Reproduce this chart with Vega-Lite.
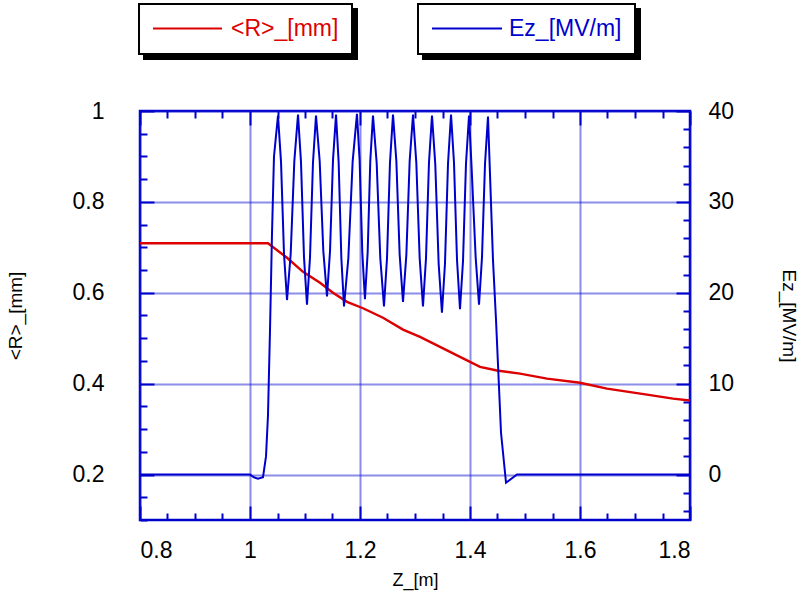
{
  "$schema": "https://vega.github.io/schema/vega-lite/v6.json",
  "width": 550,
  "height": 409,
  "autosize": {"type": "none"},
  "padding": {"left": 140, "top": 111, "right": 111, "bottom": 75},
  "background": "white",
  "config": {
    "view": {"stroke": "#0000CC", "strokeWidth": 2.5},
    "axis": {
      "domain": false,
      "labelFont": "Liberation Sans",
      "labelFontSize": 23,
      "labelColor": "black",
      "titleFont": "Liberation Sans",
      "titleFontWeight": "normal",
      "titleColor": "black",
      "titleFontSize": 19,
      "tickColor": "#0000CC",
      "tickWidth": 2,
      "gridColor": "#1a1ad4",
      "gridDash": [1, 1],
      "gridWidth": 2
    },
    "legend": {"strokeWidth": 2}
  },
  "datasets": {
    "R": [
      {"z": 0.8, "v": 0.709},
      {"z": 1.0327, "v": 0.709},
      {"z": 1.0673, "v": 0.677},
      {"z": 1.0964, "v": 0.646},
      {"z": 1.1273, "v": 0.622},
      {"z": 1.1509, "v": 0.6},
      {"z": 1.1764, "v": 0.58},
      {"z": 1.2055, "v": 0.566},
      {"z": 1.2418, "v": 0.545},
      {"z": 1.2782, "v": 0.519},
      {"z": 1.3091, "v": 0.503},
      {"z": 1.3455, "v": 0.481},
      {"z": 1.3818, "v": 0.459},
      {"z": 1.4182, "v": 0.437},
      {"z": 1.4491, "v": 0.429},
      {"z": 1.4909, "v": 0.422},
      {"z": 1.54, "v": 0.411},
      {"z": 1.6, "v": 0.402},
      {"z": 1.6491, "v": 0.389},
      {"z": 1.7218, "v": 0.376},
      {"z": 1.7691, "v": 0.367},
      {"z": 1.8, "v": 0.363}
    ],
    "Ez": [
      {"z": 0.8, "v": 0},
      {"z": 1.0, "v": 0},
      {"z": 1.007, "v": -0.3},
      {"z": 1.0145, "v": -0.45},
      {"z": 1.0236, "v": -0.3},
      {"z": 1.0291, "v": 2},
      {"z": 1.0327, "v": 6.5},
      {"z": 1.0364, "v": 16},
      {"z": 1.04, "v": 26.5},
      {"z": 1.0436, "v": 35},
      {"z": 1.0509, "v": 39.5},
      {"z": 1.0564, "v": 34.4},
      {"z": 1.0618, "v": 24.3},
      {"z": 1.0673, "v": 19.2},
      {"z": 1.074, "v": 24.3},
      {"z": 1.0806, "v": 34.5},
      {"z": 1.0873, "v": 39.6},
      {"z": 1.0927, "v": 34.4},
      {"z": 1.0982, "v": 23.9},
      {"z": 1.1036, "v": 18.7},
      {"z": 1.1091, "v": 23.9},
      {"z": 1.1145, "v": 34.3},
      {"z": 1.12, "v": 39.5},
      {"z": 1.1267, "v": 34.5},
      {"z": 1.1333, "v": 24.6},
      {"z": 1.14, "v": 19.6},
      {"z": 1.1455, "v": 24.6},
      {"z": 1.1509, "v": 34.6},
      {"z": 1.1564, "v": 39.6},
      {"z": 1.1612, "v": 34.3},
      {"z": 1.1661, "v": 23.8},
      {"z": 1.1709, "v": 18.5},
      {"z": 1.1788, "v": 23.8},
      {"z": 1.1866, "v": 34.4},
      {"z": 1.1945, "v": 39.7},
      {"z": 1.1993, "v": 34.6},
      {"z": 1.2042, "v": 24.4},
      {"z": 1.209, "v": 19.3},
      {"z": 1.2139, "v": 24.4},
      {"z": 1.2187, "v": 34.5},
      {"z": 1.2236, "v": 39.5},
      {"z": 1.2303, "v": 34.3},
      {"z": 1.2369, "v": 23.8},
      {"z": 1.2436, "v": 18.5},
      {"z": 1.2491, "v": 23.8},
      {"z": 1.2545, "v": 34.3},
      {"z": 1.26, "v": 39.6},
      {"z": 1.2661, "v": 34.5},
      {"z": 1.2721, "v": 24.2},
      {"z": 1.2782, "v": 19.0},
      {"z": 1.2843, "v": 24.2},
      {"z": 1.2903, "v": 34.5},
      {"z": 1.2964, "v": 39.6},
      {"z": 1.3024, "v": 34.3},
      {"z": 1.3085, "v": 23.8},
      {"z": 1.3145, "v": 18.5},
      {"z": 1.32, "v": 23.8},
      {"z": 1.3254, "v": 34.3},
      {"z": 1.3309, "v": 39.5},
      {"z": 1.3369, "v": 34.1},
      {"z": 1.343, "v": 23.2},
      {"z": 1.349, "v": 17.8},
      {"z": 1.3545, "v": 23.2},
      {"z": 1.36, "v": 34.2},
      {"z": 1.3655, "v": 39.6},
      {"z": 1.3709, "v": 34.3},
      {"z": 1.3764, "v": 23.6},
      {"z": 1.3818, "v": 18.2},
      {"z": 1.3873, "v": 23.5},
      {"z": 1.3927, "v": 34.2},
      {"z": 1.3982, "v": 39.5},
      {"z": 1.4025, "v": 34.3},
      {"z": 1.4103, "v": 23.9},
      {"z": 1.4164, "v": 18.7},
      {"z": 1.4218, "v": 23.9},
      {"z": 1.4273, "v": 34.2},
      {"z": 1.4327, "v": 39.4},
      {"z": 1.4418, "v": 23.6},
      {"z": 1.4473, "v": 17},
      {"z": 1.4564, "v": 4.6},
      {"z": 1.4655, "v": -0.9},
      {"z": 1.4855, "v": 0},
      {"z": 1.8, "v": 0}
    ]
  },
  "layer": [
    {
      "data": {"name": "R"},
      "mark": {"type": "line", "strokeWidth": 2.4, "clip": true},
      "encoding": {
        "x": {
          "field": "z", "type": "quantitative",
          "scale": {"domain": [0.8, 1.8], "nice": false, "zero": false},
          "axis": {
            "orient": "bottom",
            "values": [0.8, 0.85, 0.9, 0.95, 1, 1.05, 1.1, 1.15, 1.2, 1.25, 1.3, 1.35, 1.4, 1.45, 1.5, 1.55, 1.6, 1.65, 1.7, 1.75, 1.8],
            "labelExpr": "abs(datum.value*5 - round(datum.value*5)) < 0.001 ? format(datum.value, '~g') : ''",
            "tickSize": {"condition": {"test": "abs(datum.value*5 - round(datum.value*5)) < 0.001", "value": -14}, "value": -7},
            "labelPadding": 33,
            "grid": true,
            "gridOpacity": {"condition": {"test": "abs(datum.value*5 - round(datum.value*5)) < 0.001", "value": 1}, "value": 0},
            "title": "Z_[m]",
            "titleX": 275,
            "titleY": 60,
            "titleFontSize": 18,
            "titleBaseline": "middle"
          }
        },
        "y": {
          "field": "v", "type": "quantitative",
          "scale": {"domain": [0.1, 1], "nice": false, "zero": false},
          "axis": {
            "orient": "left",
            "values": [0.1, 0.15, 0.2, 0.25, 0.3, 0.35, 0.4, 0.45, 0.5, 0.55, 0.6, 0.65, 0.7, 0.75, 0.8, 0.85, 0.9, 0.95, 1],
            "labelExpr": "abs(datum.value*5 - round(datum.value*5)) < 0.001 ? format(datum.value, '~g') : ''",
            "tickSize": {"condition": {"test": "abs(datum.value*5 - round(datum.value*5)) < 0.001", "value": -14}, "value": -7},
            "labelPadding": 50,
            "labelAlign": "right",
            "grid": true,
            "gridOpacity": {"condition": {"test": "abs(datum.value*5 - round(datum.value*5)) < 0.001", "value": 1}, "value": 0},
            "title": "<R>_[mm]",
            "titleAngle": -90,
            "titleX": -125,
            "titleY": 204.5,
            "titleBaseline": "middle",
            "titleAlign": "center"
          }
        },
        "color": {
          "datum": "<R>_[mm]", "type": "nominal",
          "scale": {"range": ["#DD0000"]},
          "legend": {
            "orient": "none", "legendX": -1, "legendY": -107, "title": null,
            "fillColor": "white", "strokeColor": "black", "padding": 13, "clipHeight": 23,
            "labelFont": "Liberation Sans", "labelFontSize": 23, "labelColor": "#DD0000", "labelLimit": 0,
            "symbolType": "stroke", "symbolSize": 4761, "symbolStrokeWidth": 2, "labelOffset": 8, "zindex": 2
          }
        }
      }
    },
    {
      "data": {"name": "Ez"},
      "mark": {"type": "line", "strokeWidth": 2, "clip": true},
      "encoding": {
        "x": {
          "field": "z", "type": "quantitative",
          "scale": {"domain": [0.8, 1.8], "nice": false, "zero": false},
          "axis": {
            "orient": "top",
            "values": [0.8, 0.85, 0.9, 0.95, 1, 1.05, 1.1, 1.15, 1.2, 1.25, 1.3, 1.35, 1.4, 1.45, 1.5, 1.55, 1.6, 1.65, 1.7, 1.75, 1.8],
            "labels": false,
            "tickSize": {"condition": {"test": "abs(datum.value*5 - round(datum.value*5)) < 0.001", "value": -14}, "value": -7},
            "grid": false,
            "title": null
          }
        },
        "y": {
          "field": "v", "type": "quantitative",
          "scale": {"domain": [-5, 40], "nice": false, "zero": false},
          "axis": {
            "orient": "right",
            "values": [-4, -2, 0, 2, 4, 6, 8, 10, 12, 14, 16, 18, 20, 22, 24, 26, 28, 30, 32, 34, 36, 38, 40],
            "labelExpr": "datum.value % 10 == 0 ? format(datum.value, '~g') : ''",
            "tickSize": {"condition": {"test": "datum.value % 10 == 0", "value": -14}, "value": -7},
            "labelPadding": 32,
            "grid": false,
            "title": "Ez_[MV/m]",
            "titleAngle": 90,
            "titleX": 98,
            "titleY": 204.5,
            "titleBaseline": "middle",
            "titleAlign": "center"
          }
        },
        "color": {
          "datum": "Ez_[MV/m]", "type": "nominal",
          "scale": {"range": ["#0000CC"]},
          "legend": {
            "orient": "none", "legendX": 278, "legendY": -107, "title": null,
            "fillColor": "white", "strokeColor": "black", "padding": 13, "clipHeight": 23,
            "labelFont": "Liberation Sans", "labelFontSize": 23, "labelColor": "#0000CC", "labelLimit": 0,
            "symbolType": "stroke", "symbolSize": 4900, "symbolStrokeWidth": 2, "labelOffset": 6, "zindex": 2
          }
        }
      }
    },
    {
      "data": {"name": "R"},
      "mark": {"type": "line", "opacity": 0},
      "encoding": {
        "x": {"field": "z", "type": "quantitative", "scale": {"domain": [0.8, 1.8], "nice": false, "zero": false}, "axis": null},
        "y": {"field": "v", "type": "quantitative", "scale": {"domain": [0.1, 1], "nice": false, "zero": false}, "axis": null},
        "strokeDash": {
          "datum": "Rshadow", "type": "nominal",
          "scale": {"range": [[1, 0]]},
          "legend": {
            "orient": "none", "legendX": 4, "legendY": -102, "title": null,
            "fillColor": "black", "strokeColor": "black", "padding": 13, "clipHeight": 23,
            "labelFont": "Liberation Sans", "labelFontSize": 23, "labelColor": "black", "labelLimit": 0,
            "labelExpr": "''",
            "symbolType": "stroke", "symbolSize": 34003, "symbolStrokeWidth": 2, "symbolStrokeColor": "black", "labelOffset": 0, "zindex": 1
          }
        }
      }
    },
    {
      "data": {"name": "Ez"},
      "mark": {"type": "line", "opacity": 0},
      "encoding": {
        "x": {"field": "z", "type": "quantitative", "scale": {"domain": [0.8, 1.8], "nice": false, "zero": false}, "axis": null},
        "y": {"field": "v", "type": "quantitative", "scale": {"domain": [-5, 40], "nice": false, "zero": false}, "axis": null},
        "strokeDash": {
          "datum": "Ezshadow", "type": "nominal",
          "scale": {"range": [[1, 0]]},
          "legend": {
            "orient": "none", "legendX": 283, "legendY": -102, "title": null,
            "fillColor": "black", "strokeColor": "black", "padding": 13, "clipHeight": 23,
            "labelFont": "Liberation Sans", "labelFontSize": 23, "labelColor": "black", "labelLimit": 0,
            "labelExpr": "''",
            "symbolType": "stroke", "symbolSize": 35532, "symbolStrokeWidth": 2, "symbolStrokeColor": "black", "labelOffset": 0, "zindex": 1
          }
        }
      }
    }
  ],
  "resolve": {
    "scale": {"y": "independent", "color": "independent", "strokeDash": "independent"},
    "axis": {"x": "independent"}
  }
}
